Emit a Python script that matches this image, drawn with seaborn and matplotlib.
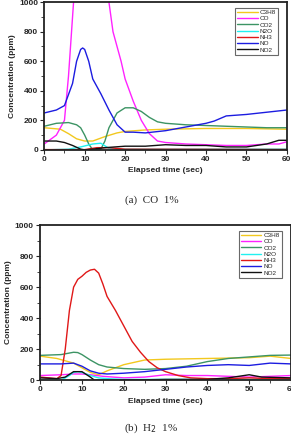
import numpy as np
import pandas as pd
import matplotlib
matplotlib.use('Agg')
import matplotlib.pyplot as plt
import seaborn as sns
from matplotlib.ticker import MultipleLocator

gases = ['C3H8', 'CO', 'CO2', 'N2O', 'NH3', 'NO', 'NO2']
colors = ['#f2c81e', '#ff22ff', '#3c9464', '#22f0f0', '#e01818', '#1c1ce0', '#111111']

# (a) CO 1%
a_C3H8 = ([0, 4, 6, 8, 10, 12, 15, 18, 20, 25, 30, 40, 50, 60],
          [150, 140, 110, 75, 60, 60, 90, 115, 125, 135, 140, 145, 145, 140])
a_CO = ([0, 3, 5, 6, 7, 8, 12, 15, 16, 17, 19, 20, 22, 24, 26, 28, 30, 35, 40, 45, 50, 55, 58, 60],
        [40, 100, 200, 500, 900, 1300, 1500, 1250, 1000, 800, 600, 480, 330, 200, 110, 60, 50, 40, 35, 30, 30, 40, 40, 55])
a_CO2 = ([0, 3, 6, 8, 9, 10, 11, 12, 14, 15, 16, 18, 20, 22, 24, 26, 28, 30, 35, 40, 45, 50, 55, 60],
         [160, 180, 185, 170, 150, 100, 40, 0, 5, 60, 150, 250, 285, 285, 260, 220, 190, 180, 170, 165, 160, 155, 150, 150])
a_N2O = ([0, 6, 9, 12, 14, 16, 18, 20, 30, 60],
         [0, 5, 20, 40, 45, 10, 5, 5, 5, 5])
a_NH3 = ([0, 10, 13, 16, 20, 60],
         [2, 2, 15, 15, 5, 3])
a_NO = ([0, 3, 5, 7, 8, 9, 9.5, 10, 11, 12, 14, 16, 18, 20, 22, 25, 30, 35, 40, 42, 45, 50, 55, 60],
        [250, 270, 300, 450, 600, 680, 690, 680, 600, 480, 380, 270, 170, 120, 120, 115, 130, 155, 180, 195, 230, 240, 255, 270])
a_NO2 = ([0, 3, 5, 7, 9, 10, 12, 15, 20, 25, 30, 35, 40, 45, 50, 55, 58, 60],
         [60, 60, 50, 30, 5, 0, 5, 15, 25, 25, 35, 30, 30, 20, 20, 40, 65, 65])

# (b) H2 1%
b_C3H8 = ([0, 4, 8, 10, 12, 14, 16, 18, 20, 25, 30, 40, 50, 55, 60],
          [155, 140, 110, 80, 50, 35, 60, 80, 100, 130, 135, 140, 145, 155, 140])
b_CO = ([0, 5, 8, 10, 12, 15, 20, 25, 30, 35, 40, 45, 50, 55, 60],
        [30, 35, 40, 40, 35, 25, 15, 20, 35, 30, 30, 25, 20, 25, 30])
b_CO2 = ([0, 5, 8, 9, 10, 12, 14, 16, 20, 25, 30, 35, 40, 45, 50, 55, 60],
         [160, 165, 180, 178, 165, 130, 100, 85, 75, 70, 75, 90, 120, 140, 150, 160, 162])
b_N2O = ([0, 5, 7, 8, 9, 10, 12, 14, 16, 20, 30, 60],
         [0, 0, 30, 50, 55, 50, 30, 15, 10, 5, 5, 5])
b_NH3 = ([0, 4, 5, 6, 7, 8, 9, 10, 11, 12, 13, 14, 15, 16, 18, 20, 22, 24, 26, 28, 30, 33, 36, 40, 45, 50, 55, 60],
         [20, 10, 30, 200, 450, 600, 650, 670, 695, 710, 715, 690, 620, 540, 450, 350, 250, 180, 120, 80, 55, 30, 15, 10, 10, 15, 10, 10])
b_NO = ([0, 5, 8, 10, 12, 14, 16, 20, 25, 30, 35, 40, 45, 50, 55, 60],
        [105, 105, 110, 90, 60, 45, 40, 45, 55, 70, 85, 95, 100, 95, 110, 105])
b_NO2 = ([0, 4, 6, 8, 10, 12, 13, 15, 20, 30, 40, 45, 50, 53, 60],
         [15, 10, 20, 55, 55, 20, 0, 0, 0, 5, 5, 15, 35, 20, 15])


def to_frame(series):
    rows = []
    for gas, (t, c) in zip(gases, series):
        for x, y in zip(t, c):
            rows.append((gas, x, y))
    return pd.DataFrame(rows, columns=['gas', 'time', 'conc'])


df_a = to_frame([a_C3H8, a_CO, a_CO2, a_N2O, a_NH3, a_NO, a_NO2])
df_b = to_frame([b_C3H8, b_CO, b_CO2, b_N2O, b_NH3, b_NO, b_NO2])

sns.set_style('white')
plt.rcParams['font.family'] = ['Liberation Sans', 'DejaVu Sans']

fig = plt.figure(figsize=(2.91, 4.37), dpi=100)
ax1 = fig.add_axes([0.152, 0.657, 0.834, 0.338])
ax2 = fig.add_axes([0.138, 0.130, 0.862, 0.355])

palette = dict(zip(gases, colors))
for ax, df, cap, capy in [(ax1, df_a, '(a)  CO  1%', 0.530),
                          (ax2, df_b, '(b)  H$_2$  1%', 0.005)]:
    sns.lineplot(data=df, x='time', y='conc', hue='gas', hue_order=gases,
                 palette=palette, ax=ax, linewidth=1.0, estimator=None, sort=True)
    ax.set_xlim(0, 60)
    ax.set_ylim(0, 1000)
    ax.xaxis.set_major_locator(MultipleLocator(10))
    ax.yaxis.set_major_locator(MultipleLocator(200))
    ax.yaxis.set_minor_locator(MultipleLocator(100))
    ax.xaxis.set_minor_locator(MultipleLocator(5))
    ax.tick_params(which='major', direction='out', length=3, width=0.8, labelsize=6, pad=1.5)
    ax.tick_params(which='minor', direction='out', length=2, width=0.6)
    ax.tick_params(axis='both', bottom=True, left=True)
    ax.tick_params(axis='both', which='minor', bottom=True, left=True)
    for lab in ax.get_xticklabels() + ax.get_yticklabels():
        lab.set_fontweight('bold')
    for s in ax.spines.values():
        s.set_linewidth(1.3)
        s.set_color('#222222')
    ax.set_xlabel('Elapsed time (sec)', fontsize=6, fontweight='bold', labelpad=3)
    ax.set_ylabel('Concentration (ppm)', fontsize=6, fontweight='bold', labelpad=2)
    leg = ax.legend(loc='upper right', fontsize=4.6, frameon=True, fancybox=False,
                    handlelength=3.2, handletextpad=0.3, labelspacing=0.12,
                    borderpad=0.3, borderaxespad=0.3, bbox_to_anchor=(0.97, 0.975))
    leg.get_frame().set_edgecolor('#444444')
    leg.get_frame().set_linewidth(0.8)
    fig.text(0.52, capy, cap, ha='center', va='bottom', fontsize=8,
             family=['Liberation Serif', 'DejaVu Serif'])

fig.savefig('out.png', dpi=100)
